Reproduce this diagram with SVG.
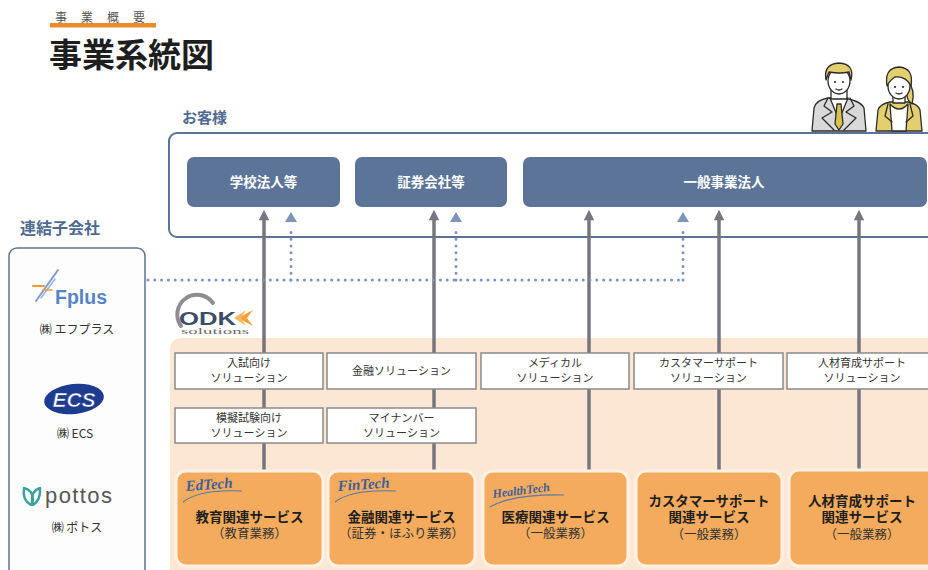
<svg xmlns="http://www.w3.org/2000/svg" width="928" height="570" viewBox="0 0 928 570">
  <defs>
    <style>
      .jp { font-family: "Noto Sans CJK JP", "Noto Sans", sans-serif; }
      .head { font-weight: 700; fill: #4f6a8f; }
      .cust rect { fill: #5b7497; }
      .cust text { fill: #ffffff; font-size: 13.5px; font-weight: 700; text-anchor: middle; }
      .sol rect { fill: #ffffff; stroke: #8a8a8a; stroke-width: 1.5; }
      .sol text { fill: #333333; font-size: 11px; text-anchor: middle; }
      .svc rect { fill: #f5ab5d; stroke: #fdf1e4; stroke-width: 3; }
      .svc .t { fill: #1f1f1f; font-size: 13.5px; font-weight: 700; text-anchor: middle; }
      .svc .s { fill: #333333; font-size: 12.5px; text-anchor: middle; }
      .tag { font-family: "Liberation Serif", serif; font-style: italic; font-weight: 700; fill: #3d5f9b; }
      .swoosh { fill: none; stroke: #5a78a8; stroke-width: 1.2; }
      .solid { stroke: #76767e; stroke-width: 3.5; fill: none; }
      .dot { stroke: #7d95ba; stroke-width: 3; stroke-linecap: round; stroke-dasharray: 0 6.8; fill: none; }
      .sub { fill: #333333; font-size: 12px; text-anchor: middle; }
      .ln { stroke: #2b2b2b; stroke-width: 1.3; stroke-linejoin: round; stroke-linecap: round; }
    </style>
    <!-- grey arrowhead, pointing along the line direction -->
    <marker id="headSolid" viewBox="0 0 10 10" refX="3" refY="5" markerWidth="3.6" markerHeight="3" orient="auto" markerUnits="strokeWidth">
      <path d="M0,0 L10,5 L0,10 Z" fill="#76767e"/>
    </marker>
  </defs>

  <rect width="928" height="570" fill="#ffffff"/>

  <!-- heading -->
  <g id="title">
    <rect x="50" y="23" width="106" height="4.5" fill="#e98b2a"/>
    <text class="jp" x="55" y="22" font-size="12" fill="#555" letter-spacing="14">事業概要</text>
    <text class="jp" x="49" y="67" font-size="33" font-weight="700" fill="#1e1e1e">事業系統図</text>
  </g>

  <!-- customers -->
  <text class="jp head" x="182" y="123" font-size="15">お客様</text>
  <rect x="169" y="133" width="800" height="104" rx="8" fill="#ffffff" stroke="#5d7393" stroke-width="2"/>

  <g id="people">
    <!-- man -->
    <path class="ln" d="M812,131 L814,108 Q816,100 828,98 L842,98 Q860,100 864,108 L866,131 Z" fill="#d9d9d9"/>
    <path class="ln" d="M830,98 L839,120 L848,98 Z" fill="#ffffff"/>
    <path class="ln" d="M837,104 L835,124 L839,130 L843,124 L841,104 Z" fill="#d9c24a"/>
    <path class="ln" d="M828,98 L824,106 L832,112 L822,118 L834,130" fill="none"/>
    <path class="ln" d="M850,98 L854,106 L846,112 L856,118 L844,130" fill="none"/>
    <path class="ln" d="M831,90 L831,99 L847,99 L847,90" fill="#ffffff"/>
    <ellipse class="ln" cx="839" cy="81" rx="11" ry="13" fill="#ffffff"/>
    <path class="ln" d="M826,80 Q823,64 839,63 Q855,64 851,80 L849,72 Q840,74 829,72 Z" fill="#e3cf70"/>
    <circle cx="835" cy="82" r="1.1" fill="#2b2b2b"/>
    <circle cx="843" cy="82" r="1.1" fill="#2b2b2b"/>
    <path class="ln" d="M836,89 Q839,91 842,89" fill="none"/>
    <!-- woman -->
    <path class="ln" d="M876,131 L878,110 Q880,104 890,102 L908,102 Q918,104 920,110 L922,131 Z" fill="#e3cf70"/>
    <path class="ln" d="M890,104 Q899,114 908,104 L906,131 L892,131 Z" fill="#ffffff"/>
    <path class="ln" d="M888,104 L885,116 L892,122" fill="none"/>
    <path class="ln" d="M910,104 L913,116 L906,122" fill="none"/>
    <path class="ln" d="M893,94 L893,103 L905,103 L905,94" fill="#ffffff"/>
    <path class="ln" d="M907,80 Q916,90 912,104 Q906,100 907,92 Z" fill="#e3cf70"/>
    <ellipse class="ln" cx="899" cy="86" rx="11" ry="13" fill="#ffffff"/>
    <path class="ln" d="M887,86 Q884,68 899,67 Q914,68 911,86 Q906,76 895,77 Q890,80 887,86 Z" fill="#e3cf70"/>
    <circle cx="895" cy="87" r="1.1" fill="#2b2b2b"/>
    <circle cx="903" cy="87" r="1.1" fill="#2b2b2b"/>
    <path class="ln" d="M896,93 Q899,95 902,93" fill="none"/>
  </g>

  <g id="cust-school" class="cust jp">
    <rect x="187" y="157" width="153" height="50" rx="7"/>
    <text x="263.5" y="187">学校法人等</text>
  </g>
  <g id="cust-securities" class="cust jp">
    <rect x="355" y="157" width="152" height="50" rx="7"/>
    <text x="431" y="187">証券会社等</text>
  </g>
  <g id="cust-corporate" class="cust jp">
    <rect x="523" y="157" width="404" height="50" rx="7"/>
    <text x="724" y="187">一般事業法人</text>
  </g>

  <!-- group companies -->
  <text class="jp head" x="20" y="234" font-size="16">連結子会社</text>
  <rect x="9" y="248" width="136" height="340" rx="8" fill="#fdfdfe" stroke="#5d7393" stroke-width="1.5"/>

  <g id="sub-fplus">
    <g stroke-linecap="round">
      <line x1="36" y1="301" x2="58" y2="270" stroke="#7b9bd0" stroke-width="2"/>
      <line x1="41" y1="298" x2="55" y2="279" stroke="#9db4dc" stroke-width="1.5"/>
      <line x1="33" y1="286" x2="44" y2="286" stroke="#ef9a3c" stroke-width="2.2"/>
      <line x1="43" y1="290" x2="52" y2="290" stroke="#ef9a3c" stroke-width="1.6"/>
    </g>
    <text x="55" y="304" font-family="Liberation Sans, Arial, sans-serif" font-size="19.5" font-weight="700" fill="#5683c6">Fplus</text>
    <text class="jp sub" x="77" y="334">㈱ エフプラス</text>
  </g>

  <g id="sub-ecs">
    <ellipse cx="74" cy="399" rx="30" ry="15" fill="#1d3b8f" transform="rotate(-6 74 399)"/>
    <text x="74" y="407" font-family="Liberation Sans, Arial, sans-serif" font-size="21" font-weight="700" font-style="italic" fill="#ffffff" stroke="#1d3b8f" stroke-width="0.6" text-anchor="middle">ECS</text>
    <text class="jp sub" x="75" y="438">㈱ ECS</text>
  </g>

  <g id="sub-pottos">
    <path d="M31,505 Q22,500 24,488 Q33,490 33,500 Z" fill="none" stroke="#3aa29a" stroke-width="2.4" stroke-linejoin="round"/>
    <path d="M33,505 Q41,500 40,488 Q31,491 32,501 Z" fill="none" stroke="#3aa29a" stroke-width="2.4" stroke-linejoin="round"/>
    <text x="45" y="503" font-family="Liberation Sans, Arial, sans-serif" font-size="22" fill="#575757" letter-spacing="1.4">pottos</text>
    <text class="jp sub" x="77" y="532">㈱ ポトス</text>
  </g>

  <!-- service area background -->
  <path d="M170,350 Q170,338 182,338 L928,338 L928,570 L170,570 Z" fill="#fbe7d3"/>

  <g id="odk-logo">
    <path d="M181,326 A19,19 0 0 1 213,303" fill="none" stroke="#8d8d93" stroke-width="4" stroke-linecap="round"/>
    <text x="179" y="325" font-family="Liberation Sans, Arial, sans-serif" font-size="18" font-weight="700" fill="#3d4d68" textLength="57" lengthAdjust="spacingAndGlyphs">ODK</text>
    <path d="M253,310 L238,318 L253,326 L247,318 Z" fill="#f0a23a"/>
    <path d="M246,310 L234,318 L246,326 L241,318 Z" fill="#f5b860"/>
    <text x="181" y="334" font-family="Liberation Serif, serif" font-size="9" fill="#6b6b70" textLength="68" lengthAdjust="spacingAndGlyphs">solutions</text>
  </g>

  <!-- connectors -->
  <g id="connectors">
    <line class="solid" x1="264" y1="471" x2="264" y2="217" marker-end="url(#headSolid)"/>
    <line class="solid" x1="434" y1="471" x2="434" y2="217" marker-end="url(#headSolid)"/>
    <line class="solid" x1="589" y1="471" x2="589" y2="217" marker-end="url(#headSolid)"/>
    <line class="solid" x1="719" y1="471" x2="719" y2="217" marker-end="url(#headSolid)"/>
    <line class="solid" x1="859" y1="471" x2="859" y2="217" marker-end="url(#headSolid)"/>
    <path class="dot" d="M148,280 L683,280"/>
    <path class="dot" d="M291,280 L291,226"/>
    <path class="dot" d="M456,280 L456,226"/>
    <path class="dot" d="M683,280 L683,226"/>
    <path d="M291,212 L297,222 L285,222 Z" fill="#7d95ba"/>
    <path d="M456,212 L462,222 L450,222 Z" fill="#7d95ba"/>
    <path d="M683,212 L689,222 L677,222 Z" fill="#7d95ba"/>
  </g>

  <!-- solutions -->
  <g id="sol-exam" class="sol jp">
    <rect x="175" y="353" width="148" height="36"/>
    <text x="249" y="367">入試向け</text>
    <text x="249" y="382">ソリューション</text>
  </g>
  <g id="sol-finance" class="sol jp">
    <rect x="327" y="353" width="149" height="36"/>
    <text x="401.5" y="375">金融ソリューション</text>
  </g>
  <g id="sol-medical" class="sol jp">
    <rect x="481" y="353" width="148" height="36"/>
    <text x="555" y="367">メディカル</text>
    <text x="555" y="382">ソリューション</text>
  </g>
  <g id="sol-support" class="sol jp">
    <rect x="634" y="353" width="149" height="36"/>
    <text x="708.5" y="367">カスタマーサポート</text>
    <text x="708.5" y="382">ソリューション</text>
  </g>
  <g id="sol-hr" class="sol jp">
    <rect x="787" y="353" width="150" height="36"/>
    <text x="862" y="367">人材育成サポート</text>
    <text x="862" y="382">ソリューション</text>
  </g>
  <g id="sol-mock" class="sol jp">
    <rect x="175" y="408" width="148" height="35"/>
    <text x="249" y="422">模擬試験向け</text>
    <text x="249" y="437">ソリューション</text>
  </g>
  <g id="sol-mynumber" class="sol jp">
    <rect x="327" y="408" width="149" height="35"/>
    <text x="401.5" y="422">マイナンバー</text>
    <text x="401.5" y="437">ソリューション</text>
  </g>

  <!-- services -->
  <g id="svc-edu" class="svc jp">
    <rect x="176" y="471" width="147" height="95" rx="10"/>
    <text class="tag" x="186" y="491" font-size="15" transform="rotate(-4 186 491)">EdTech</text>
    <path class="swoosh" d="M183,502 Q200,489 242,491"/>
    <text class="t" x="249.5" y="522">教育関連サービス</text>
    <text class="s" x="249.5" y="538">（教育業務）</text>
  </g>
  <g id="svc-fin" class="svc jp">
    <rect x="328" y="471" width="147" height="95" rx="10"/>
    <text class="tag" x="338" y="491" font-size="15" transform="rotate(-4 338 491)">FinTech</text>
    <path class="swoosh" d="M335,502 Q352,489 396,491"/>
    <text class="t" x="401.5" y="522">金融関連サービス</text>
    <text class="s" x="401.5" y="538">（証券・ほふり業務）</text>
  </g>
  <g id="svc-health" class="svc jp">
    <rect x="483" y="471" width="145" height="95" rx="10"/>
    <text class="tag" x="493" y="498" font-size="12" transform="rotate(-7 493 498)">HealthTech</text>
    <path class="swoosh" d="M490,507 Q512,494 564,495"/>
    <text class="t" x="555.5" y="522">医療関連サービス</text>
    <text class="s" x="555.5" y="538">（一般業務）</text>
  </g>
  <g id="svc-support" class="svc jp">
    <rect x="636" y="471" width="146" height="95" rx="10"/>
    <text class="t" x="709" y="506">カスタマーサポート</text>
    <text class="t" x="709" y="522">関連サービス</text>
    <text class="s" x="709" y="539">（一般業務）</text>
  </g>
  <g id="svc-hr" class="svc jp">
    <rect x="789" y="470" width="150" height="96" rx="10"/>
    <text class="t" x="862" y="506">人材育成サポート</text>
    <text class="t" x="862" y="522">関連サービス</text>
    <text class="s" x="862" y="539">（一般業務）</text>
  </g>
</svg>
